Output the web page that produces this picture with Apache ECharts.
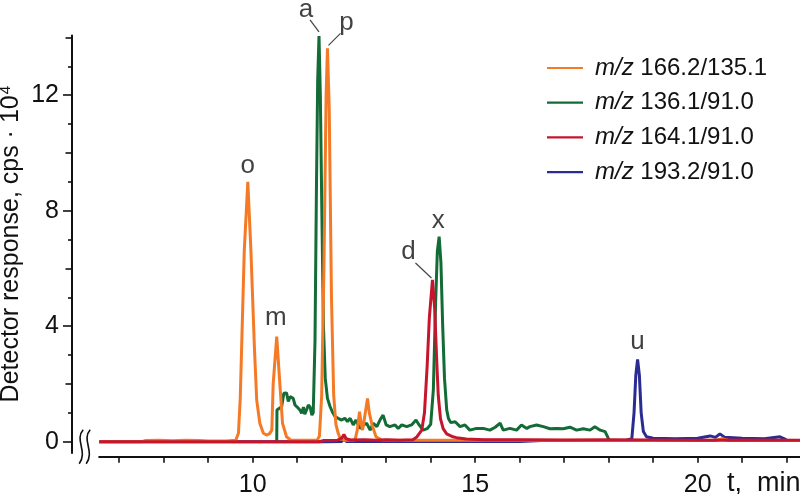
<!DOCTYPE html>
<html>
<head>
<meta charset="utf-8">
<script src="https://cdn.jsdelivr.net/npm/echarts@6/dist/echarts.min.js"></script>
<style>html,body{margin:0;padding:0;background:#fff}#c{width:800px;height:494px}</style>
</head>
<body>
<div id="c"></div>
<script>
// ---- data ----
const seriesNames = ['m/z 166.2/135.1', 'm/z 136.1/91.0', 'm/z 164.1/91.0', 'm/z 193.2/91.0'];
const xRange = [6.55, 22.3];
const yRange = [-0.52, 14.07];
const xTickValues = [7,8,9,10,11,12,13,14,15,16,17,18,19,20,21,22];
const xLabelValues = [10, 15, 20];
const yLabelValues = [0, 4, 8, 12];
const yMidTicks = [2, 6, 10, 14];
const yMinorTicks = [1, 3, 5, 7, 9, 11, 13];

const orange = [[6.55,0],[7.5,0],[7.6,0.04],[7.9,0.05],[8.2,0.03],[8.5,0.05],[8.8,0.04],[9.0,0.02],[9.4,0.02],[9.62,0.05],
 [9.68,0.3],[9.72,1.5],[9.75,3.2],[9.81,6.6],[9.89,9.0],[9.96,6.6],[10.04,3.2],[10.09,1.44],[10.16,0.64],[10.24,0.29],
 [10.31,0.23],[10.38,0.28],[10.43,0.4],[10.46,2.0],[10.54,3.64],[10.61,2.0],[10.67,0.64],[10.76,0.17],[10.85,0.06],
 [11.0,0.05],[11.3,0.05],[11.45,0.05],[11.5,0.2],[11.55,1.6],[11.6,6.0],[11.65,12.0],[11.68,13.62],[11.72,11.5],[11.77,5.0],
 [11.82,1.6],[11.87,0.6],[11.92,0.3],[11.97,0.1],[12.1,0.05],[12.3,0.06],[12.35,0.4],[12.4,1.04],[12.44,0.6],[12.47,0.4],
 [12.52,0.9],[12.58,1.5],[12.62,1.0],[12.68,0.6],[12.77,0.17],[12.9,0.06],[13.5,0.05],[14.5,0.05],[16,0.05],[18,0.04],
 [20.4,0.04],[20.55,0.1],[20.7,0.04],[22.3,0.04]];

const green = [[10.54,0],[10.545,1.1],[10.6,1.16],[10.65,1.21],[10.7,1.68],[10.76,1.69],[10.8,1.39],[10.84,1.56],[10.88,1.56],
 [10.91,1.5],[10.95,1.27],[11.0,1.2],[11.06,1.1],[11.1,0.98],[11.14,1.2],[11.17,0.95],[11.21,1.1],[11.25,1.27],[11.29,1.2],
 [11.33,0.92],[11.36,1.0],[11.4,3.5],[11.43,8.4],[11.46,12.5],[11.49,14.05],[11.52,12.0],[11.55,8.4],[11.59,4.0],[11.63,2.2],
 [11.68,1.5],[11.74,1.21],[11.8,1.0],[11.85,0.87],[11.92,0.81],[12.0,0.75],[12.07,0.81],[12.13,0.7],[12.19,0.81],[12.26,0.58],
 [12.32,0.75],[12.41,0.46],[12.49,0.58],[12.56,0.64],[12.64,0.4],[12.71,0.64],[12.79,0.52],[12.86,0.75],[12.93,0.92],[13.0,0.58],
 [13.08,0.52],[13.2,0.58],[13.27,0.46],[13.35,0.58],[13.46,0.52],[13.57,0.58],[13.67,0.75],[13.74,0.58],[13.83,0.4],[13.92,0.45],
 [14.0,0.6],[14.06,1.8],[14.11,4.8],[14.15,6.6],[14.19,7.1],[14.23,6.2],[14.27,4.0],[14.31,2.2],[14.36,1.1],[14.4,0.8],
 [14.45,0.66],[14.55,0.69],[14.66,0.52],[14.77,0.58],[14.88,0.4],[15.03,0.46],[15.18,0.46],[15.33,0.4],[15.45,0.5],[15.56,0.64],
 [15.63,0.4],[15.78,0.46],[15.93,0.4],[16.04,0.58],[16.16,0.46],[16.23,0.52],[16.38,0.58],[16.53,0.52],[16.68,0.45],[16.83,0.46],
 [16.98,0.45],[17.13,0.5],[17.28,0.4],[17.43,0.45],[17.58,0.4],[17.69,0.52],[17.81,0.4],[17.92,0.35],[17.99,0.12],[18.02,0.04]];

const red = [[6.55,0],[11.5,0],[11.6,0.04],[11.9,0.05],[12.0,0.12],[12.05,0.25],[12.1,0.1],[12.2,0.06],[12.5,0.07],[12.8,0.05],
 [13.0,0.07],[13.3,0.05],[13.6,0.07],[13.68,0.15],[13.8,0.4],[13.86,1.0],[13.92,2.6],[13.97,4.3],[14.04,5.6],[14.09,4.6],
 [14.13,3.0],[14.17,1.6],[14.22,0.8],[14.28,0.45],[14.36,0.27],[14.5,0.17],[14.58,0.14],[14.8,0.09],[15.2,0.07],[16,0.07],
 [17,0.06],[18,0.07],[19,0.06],[20,0.05],[21,0.06],[22.3,0.05]];

const blue = [[6.55,0],[11.6,0],[12.0,0.01],[12.05,0.1],[12.1,0.01],[16,0.01],[16.5,0.04],[18.4,0.05],[18.52,0.1],[18.57,1.0],
 [18.61,2.3],[18.65,2.85],[18.69,2.3],[18.73,1.0],[18.78,0.35],[18.85,0.17],[19.0,0.12],[19.5,0.1],[20.0,0.12],[20.28,0.2],
 [20.4,0.15],[20.5,0.27],[20.61,0.15],[21.0,0.12],[21.5,0.1],[21.85,0.17],[21.95,0.1],[22.0,0.05]];

const peakNames = ['o', 'm', 'a', 'p', 'd', 'x', 'u'];
const peakTimes = [9.89, 10.54, 11.49, 11.68, 14.04, 14.19, 18.65];
const peakHeights = [9.0, 3.64, 14.05, 13.62, 5.6, 7.1, 2.85];

// ---- styles ----
const FONT = "'Liberation Sans', Arial, Helvetica, sans-serif";
const colors = ['#F47A26', '#136B35', '#C5162E', '#2A2C92'];
const labelOffsets = { o:[0,-16], m:[-1,-19], a:[-13,-26], p:[19,-26], d:[-24,-28], x:[-1,-16], u:[0,-18] };
const leaders = { a:[[-9,-16],[0,-4]], p:[[13,-15],[1,-3]], d:[[-17,-17],[-1,-2]] };

const chart = echarts.init(document.getElementById('c'), null, {renderer: 'canvas'});

const lineSeries = (name, data, color) => ({
  name, type: 'line', data, xAxisIndex: 0, yAxisIndex: 0, symbol: 'none', smooth: false,
  lineStyle: { width: 3, color }, itemStyle: { color }, animation: false, clip: false
});

const peakData = peakNames.map((n, i) => ({
  value: [peakTimes[i], peakHeights[i]], name: n,
  label: { offset: labelOffsets[n] }
}));

const option = {
  animation: false,
  backgroundColor: '#fff',
  grid: [
    { left: 99.2, right: 0, top: 35.4, bottom: 37.3, outerBoundsMode: 'none', containLabel: false },
    { left: 72, width: 1, top: 35.4, bottom: 41.04, outerBoundsMode: 'none', containLabel: false }
  ],
  xAxis: [
    { gridIndex: 0, type: 'value', min: xRange[0], max: xRange[1],
      axisLine: { show: true, onZero: false, lineStyle: { color: '#111', width: 2 } },
      axisTick: { show: true, customValues: xTickValues, length: 6, inside: false, lineStyle: { color: '#111', width: 1.6 } },
      axisLabel: { show: true, customValues: xLabelValues, fontSize: 25, color: '#111', fontFamily: FONT, margin: 16 },
      splitLine: { show: false },
      name: 't,  min', nameLocation: 'end', nameGap: -73,
      nameTextStyle: { fontSize: 27, color: '#111', fontFamily: FONT, align: 'left', verticalAlign: 'top', padding: [13, 0, 0, 0] }
    },
    { gridIndex: 1, type: 'value', min: 0, max: 1, show: false }
  ],
  yAxis: [
    { gridIndex: 0, type: 'value', min: yRange[0], max: yRange[1], show: false },
    { gridIndex: 1, type: 'value', min: -0.39, max: yRange[1], position: 'left',
      axisLine: { show: true, onZero: false, lineStyle: { color: '#111', width: 2 } },
      axisTick: { show: true, customValues: yLabelValues, length: 9, lineStyle: { color: '#111', width: 1.6 } },
      axisLabel: { show: true, customValues: yLabelValues, fontSize: 25, color: '#111', fontFamily: FONT, margin: 13 },
      splitLine: { show: false },
      name: '{n|Detector response, cps · 10}{s|4}', nameLocation: 'middle', nameRotate: 90, nameGap: 48,
      nameTextStyle: { color: '#111', fontFamily: FONT, fontSize: 25,
        rich: { n: { fontSize: 25, lineHeight: 26, fontFamily: FONT, color: '#111' },
                s: { fontSize: 15, lineHeight: 26, verticalAlign: 'top', fontFamily: FONT, color: '#111', padding: [0,0,10,1] } } }
    },
    { gridIndex: 1, type: 'value', min: -0.39, max: yRange[1], position: 'left',
      axisLine: { show: false }, axisLabel: { show: false }, splitLine: { show: false },
      axisTick: { show: true, customValues: yMidTicks, length: 6.5, lineStyle: { color: '#111', width: 1.6 } } },
    { gridIndex: 1, type: 'value', min: -0.39, max: yRange[1], position: 'left',
      axisLine: { show: false }, axisLabel: { show: false }, splitLine: { show: false },
      axisTick: { show: true, customValues: yMinorTicks, length: 4, lineStyle: { color: '#111', width: 1.6 } } }
  ],
  legend: {
    data: seriesNames, orient: 'vertical', left: 547, top: 56, padding: 0, itemGap: 10.7,
    itemWidth: 36, itemHeight: 14, icon: 'path://M0,0 L36,0 L36,2.2 L0,2.2 Z',
    formatter: name => '{i|m/z}' + name.slice(3),
    textStyle: { fontSize: 24, lineHeight: 24, color: '#111', fontFamily: FONT, padding: [0, 0, 0, 7],
      rich: { i: { fontStyle: 'italic', fontSize: 24, lineHeight: 24, fontFamily: FONT, color: '#111' } } }
  },
  series: [
    lineSeries(seriesNames[3], blue, colors[3]),
    lineSeries(seriesNames[1], green, colors[1]),
    lineSeries(seriesNames[0], orange, colors[0]),
    lineSeries(seriesNames[2], red, colors[2]),
    { name: 'peaks', type: 'scatter', xAxisIndex: 0, yAxisIndex: 0, symbolSize: 0, clip: false, silent: true,
      data: peakData,
      label: { show: true, position: 'inside', formatter: p => p.name, fontSize: 26, color: '#111', fontFamily: FONT },
      z: 10 }
  ]
};
chart.setOption(option);

// leader lines and axis break, positioned from the axis scales
const gfx = [];
peakNames.forEach((n, i) => {
  if (!leaders[n]) return;
  const p = chart.convertToPixel({ xAxisIndex: 0, yAxisIndex: 0 }, [peakTimes[i], peakHeights[i]]);
  const [s, e] = leaders[n];
  gfx.push({ type: 'line', shape: { x1: p[0] + s[0], y1: p[1] + s[1], x2: p[0] + e[0], y2: p[1] + e[1] },
    style: { stroke: '#444', lineWidth: 1.2 }, z: 20 });
});
const o = chart.convertToPixel({ xAxisIndex: 0, yAxisIndex: 0 }, [xRange[0], 0]);
[-19, -12].forEach(dx => {
  const x0 = o[0] + dx;
  gfx.push({ type: 'bezierCurve',
    shape: { x1: x0 + 3, y1: o[1] - 12, cpx1: x0 - 6, cpy1: o[1] - 2, cpx2: x0 + 8, cpy2: o[1] + 10, x2: x0 - 1, y2: o[1] + 22 },
    style: { stroke: '#111', lineWidth: 1.6, fill: null }, z: 20 });
});
chart.setOption({ graphic: gfx });
</script>
</body>
</html>
